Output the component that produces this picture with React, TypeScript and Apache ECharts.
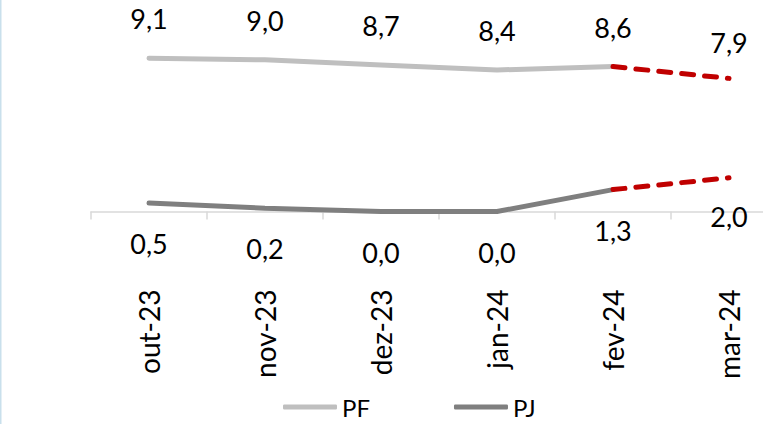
import React, { useEffect, useRef } from "react";
import * as echarts from "echarts";

const categories = ["out-23", "nov-23", "dez-23", "jan-24", "fev-24", "mar-24"];
const pfValues = [9.1, 9.0, 8.7, 8.4, 8.6, null];
const pjValues = [0.5, 0.2, 0.0, 0.0, 1.3, null];
const pfProjection = [null, null, null, null, 8.6, 7.9];
const pjProjection = [null, null, null, null, 1.3, 2.0];

const FONT = "Lato";
const fmt = (p: any) => (p.value == null ? "" : Number(p.value).toFixed(1).replace(".", ","));

export default function App() {
  const ref = useRef<HTMLDivElement>(null);
  useEffect(() => {
    if (!ref.current) return;
    const chart = echarts.init(ref.current, undefined, { renderer: "svg" });
    const projLabelOnlyLast = (arr: (number | null)[]) =>
      arr.map((v, i) =>
        v == null
          ? null
          : i === arr.length - 1
          ? { value: v }
          : { value: v, label: { show: false } }
      );
    const labelBase = {
      show: true,
      formatter: fmt,
      fontFamily: FONT,
      fontSize: 27,
      color: "#000",
    };
    chart.setOption({
      animation: false,
      backgroundColor: "#ffffff",
      grid: { left: 91, width: 696, top: 43, height: 168.5, containLabel: false },
      xAxis: {
        type: "category",
        data: categories,
        boundaryGap: true,
        axisLine: { show: true, lineStyle: { color: "#d9d9d9", width: 1.5 } },
        axisTick: { show: true, length: 8, alignWithLabel: false, lineStyle: { color: "#d9d9d9", width: 1.5 } },
        axisLabel: { rotate: 90, margin: 78, fontFamily: FONT, fontSize: 28, color: "#000", interval: 0 },
        splitLine: { show: false },
      },
      yAxis: { type: "value", min: 0, max: 10, show: false, splitLine: { show: false } },
      legend: {
        data: ["PF", "PJ"],
        left: 278,
        top: 390,
        icon: "roundRect",
        itemWidth: 54,
        itemHeight: 5,
        itemGap: 84,
        textStyle: { fontFamily: FONT, fontSize: 24, color: "#000" },
      },
      graphic: [
        { type: "rect", left: 0, top: 0, shape: { x: 0, y: 0, width: 1.5, height: 424 }, style: { fill: "#c9e0ec" } },
      ],
      series: [
        {
          name: "PF",
          type: "line",
          data: pfValues,
          color: "#bfbfbf",
          symbol: "circle",
          symbolSize: 2,
          showSymbol: true,
          lineStyle: { color: "#bfbfbf", width: 5, cap: "round" },
          label: { ...labelBase, position: "top", distance: 25 },
          z: 2,
        },
        {
          name: "PJ",
          type: "line",
          data: pjValues,
          color: "#7f7f7f",
          symbol: "circle",
          symbolSize: 2,
          showSymbol: true,
          lineStyle: { color: "#7f7f7f", width: 5, cap: "round" },
          label: { ...labelBase, position: "bottom", distance: 26 },
          z: 2,
        },
        {
          name: "PF proj",
          type: "line",
          data: projLabelOnlyLast(pfProjection),
          color: "#c00000",
          symbol: "circle",
          symbolSize: 1,
          showSymbol: true,
          lineStyle: { color: "#c00000", width: 5, type: [12, 11], cap: "round" },
          label: { ...labelBase, position: "top", distance: 22 },
          z: 3,
        },
        {
          name: "PJ proj",
          type: "line",
          data: projLabelOnlyLast(pjProjection),
          color: "#c00000",
          symbol: "circle",
          symbolSize: 1,
          showSymbol: true,
          lineStyle: { color: "#c00000", width: 5, type: [12, 11], cap: "round" },
          label: { ...labelBase, position: "bottom", distance: 25 },
          z: 3,
        },
      ],
    });
    return () => chart.dispose();
  }, []);
  return (
    <div
      ref={ref}
      style={{ position: "fixed", left: 0, top: 0, width: 800, height: 424 }}
    />
  );
}
